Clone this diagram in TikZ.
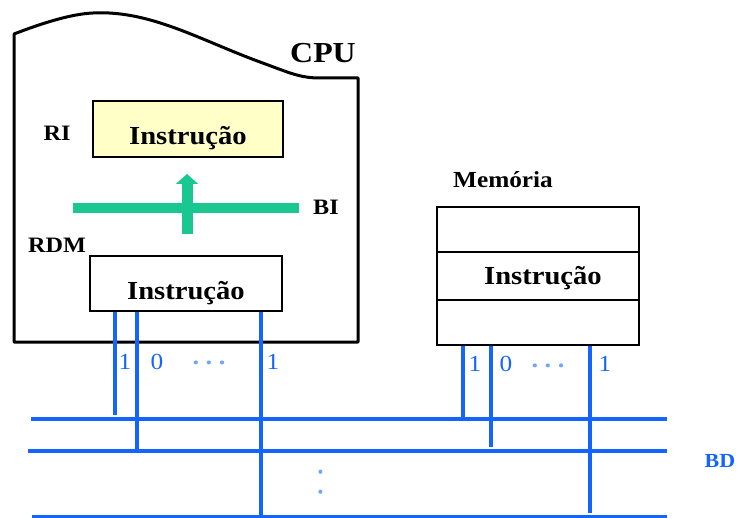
\documentclass[tikz,border=0pt]{standalone}
\usepackage{fontspec}
\setmainfont[FakeStretch=1.1]{Liberation Serif}
\usetikzlibrary{positioning,arrows.meta}
\definecolor{busblue}{RGB}{20,100,255}
\definecolor{dotblue}{RGB}{110,165,255}
\definecolor{bigreen}{RGB}{25,200,145}
\definecolor{rifill}{RGB}{255,255,200}

\begin{document}
\begin{tikzpicture}[x=1pt,y=-1pt,
		reg/.style={draw=black,line width=1.2pt,inner sep=0pt},
		word/.style={font=\fontsize{26}{26}\selectfont\bfseries},
		lowword/.style={word,text height=31pt,text depth=0pt},
		lbl/.style={font=\fontsize{22}{22}\selectfont\bfseries},
		bit/.style={text=busblue,font=\fontsize{23}{23}\selectfont},
		dots/.style={text=dotblue,font=\fontsize{24}{24}\selectfont\bfseries},
		wire/.style={draw=busblue,line width=3.2pt}]
		\useasboundingbox (0,0) rectangle (738,518);

		%cpu outline
		\draw[line width=3pt,line join=round] (14,342) -- (14,34) .. controls (40,24) and (70,14) .. (93,13)
			.. controls (150,10) and (200,40) .. (260,62) .. controls (290,73) and (300,78) .. (320,78)
			-- (358,78) -- (358,342) -- cycle;

		%registers
		\node[reg,fill=rifill,minimum width=190pt,minimum height=56pt,lowword] (ri) at (188,129) {Instrução};
		\node[reg,minimum width=192pt,minimum height=55pt,lowword] (rdm) at (186,283.5) {Instrução};

		%cpu labels
		\node[font=\fontsize{29}{29}\selectfont\bfseries] (cpulbl) at (323,53) {CPU};
		\node[lbl] (rilbl) at (57,133) {RI};
		\node[lbl] (bilbl) at (326,207) {BI};
		\node[lbl] (rdmlbl) at (57,245) {RDM};

		%internal bus
		\coordinate (bil) at (73,208.5);
		\coordinate (bir) at (299,208.5);
		\coordinate (bib) at (187,234);
		\coordinate (bit) at (187,174);
		\draw[bigreen,line width=10pt] (bil) -- (bir);
		\draw[bigreen,line width=11pt,-{Triangle[width=22pt,length=10pt]}] (bib) -- (bit);

		%memory
		\node[reg,minimum width=202pt,minimum height=138pt] (mem) at (538,276) {};
		\draw[line width=1.2pt] (mem.west |- 0,252) -- (mem.east |- 0,252);
		\draw[line width=1.2pt] (mem.west |- 0,300) -- (mem.east |- 0,300);
		\node[word] (memword) at (543,278) {Instrução};
		\node[font=\fontsize{23}{23}\selectfont\bfseries] (memlbl) at (503,180) {Memória};

		%data bus lines
		\coordinate (b1l) at (31,419);
		\coordinate (b1r) at (667,419);
		\coordinate (b2l) at (28,451);
		\coordinate (b2r) at (667,451);
		\coordinate (b3l) at (32,517);
		\coordinate (b3r) at (667,517);
		\draw[wire] (b1l) -- (b1r);
		\draw[wire] (b2l) -- (b2r);
		\draw[wire] (b3l) -- (b3r);
		\node[text=busblue,font=\fontsize{20}{20}\selectfont\bfseries] (bd) at (720,461) {BD};
		\node[dots] (vdots) at (321,482) {\rotatebox{90}{.\hskip 14pt.}};

		%wires from rdm
		\coordinate (c1) at (115,415);
		\coordinate (c2) at (137,451);
		\coordinate (c3) at (261,517);
		\draw[wire] (rdm.south -| c1) -- (c1);
		\draw[wire] (rdm.south -| c2) -- (c2);
		\draw[wire] (rdm.south -| c3) -- (c3);
		\node[bit] (cb1) at (125,362) {1};
		\node[bit] (cb2) at (157,362) {0};
		\node[dots] (cdots) at (209,363) {.\ .\ .};
		\node[bit] (cbn) at (273,362) {1};

		%wires from memory
		\coordinate (m1) at (463,419);
		\coordinate (m2) at (491,447);
		\coordinate (m3) at (590,513);
		\draw[wire] (mem.south -| m1) -- (m1);
		\draw[wire] (mem.south -| m2) -- (m2);
		\draw[wire] (mem.south -| m3) -- (m3);
		\node[bit] (mb1) at (475,364) {1};
		\node[bit] (mb2) at (506,364) {0};
		\node[dots] (mdots) at (548,366) {.\ .\ .};
		\node[bit] (mbn) at (605,364) {1};
\end{tikzpicture}
\end{document}
